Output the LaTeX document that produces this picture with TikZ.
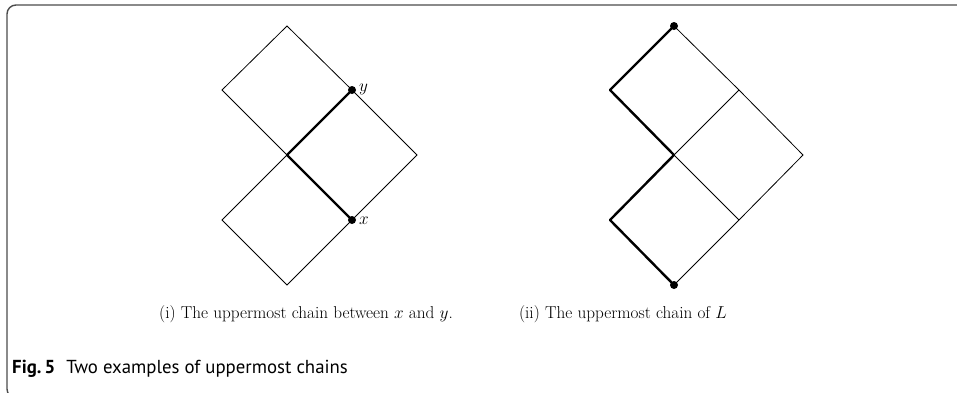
\documentclass[tikz,border=0pt]{standalone}
\usepackage{fontspec}
\newfontfamily\capfont{PT Sans}
\begin{document}
\begin{tikzpicture}[x=1pt,y=-1pt,
  thin line/.style={line width=0.8pt,black},
  thick line/.style={line width=2.4pt,black,line cap=round,line join=round},
  dot/.style={circle,fill=black,inner sep=0pt,minimum size=8pt},
  frame/.style={line width=1.4pt,draw=black!70,rounded corners=9pt}]
\useasboundingbox (0,0) rectangle (957,392);
\draw[frame] (960,5) -- (7,5) -- (7,398) -- (60,398);
% left diagram
\coordinate (at) at (287,26);
\coordinate (al) at (222,90);
\coordinate (ay) at (352,90);
\coordinate (ac) at (287,155);
\coordinate (ar) at (417,155);
\coordinate (ax) at (352,220);
\coordinate (all) at (222,220);
\coordinate (ab) at (287,285);
\draw[thin line] (at) -- (al) -- (ac) -- (ay) -- cycle;
\draw[thin line] (ay) -- (ar) -- (ax) -- (ac);
\draw[thin line] (ac) -- (all) -- (ab) -- (ax);
\draw[thick line] (ay) -- (ac) -- (ax);
\node[dot] (dy) at (ay) {};
\node[dot] (dx) at (ax) {};
\node[anchor=west,inner sep=0pt,font=\fontsize{17}{19}\selectfont] (ly) at (359,89) {$y$};
\node[anchor=west,inner sep=0pt,font=\fontsize{17}{19}\selectfont] (lx) at (359,221) {$x$};
% right diagram
\coordinate (bt) at (674,26);
\coordinate (bl) at (610,90);
\coordinate (bm) at (739,90);
\coordinate (bc) at (674,155);
\coordinate (br) at (803,155);
\coordinate (bll) at (610,220);
\coordinate (blm) at (739,220);
\coordinate (bb) at (674,285);
\draw[thin line] (bt) -- (bm) -- (br) -- (blm) -- (bb);
\draw[thin line] (bm) -- (bc) -- (blm);
\draw[thick line] (bt) -- (bl) -- (bc) -- (bll) -- (bb);
\node[dot] (dt) at (bt) {};
\node[dot] (db) at (bb) {};
% captions
\node[anchor=base,inner sep=0pt,font=\fontsize{17.2}{20}\selectfont] (ci) at (306,318) {(i) The uppermost chain between $x$ and $y$.};
\node[anchor=base,inner sep=0pt,font=\fontsize{17.2}{20}\selectfont] (cii) at (623,318) {(ii) The uppermost chain of $L$};
\node[anchor=base west,inner sep=0pt,font=\capfont\fontsize{18.8}{21}\selectfont] (fig) at (12,373) {\textbf{Fig.\,5}\hspace{11pt}Two examples of uppermost chains};
\end{tikzpicture}
\end{document}
